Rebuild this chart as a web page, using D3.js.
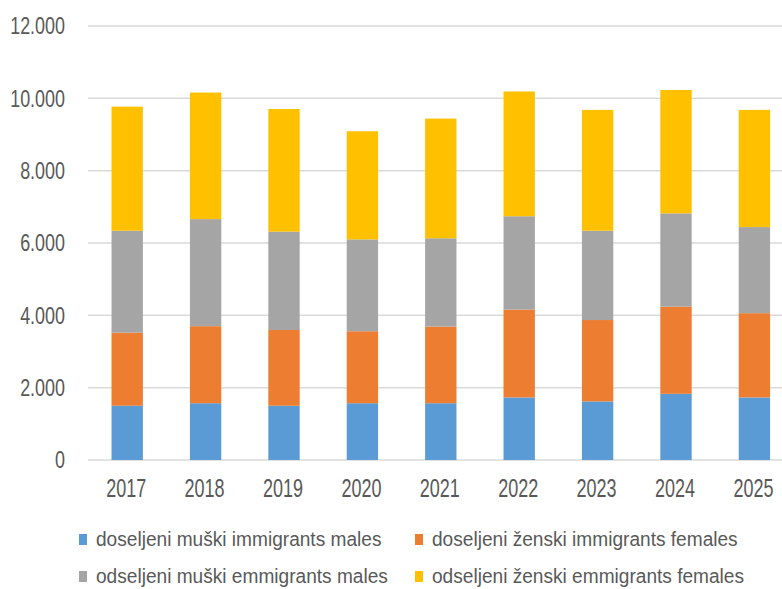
<!DOCTYPE html>
<html>
<head>
<meta charset="utf-8">
<script src="https://cdn.jsdelivr.net/npm/d3@7"></script>
<style>
  html, body { margin: 0; padding: 0; background: #fff; }
  svg { display: block; }
  text { font-family: "Liberation Sans", Arial, sans-serif; fill: #595959; }
</style>
</head>
<body>
<svg id="chart" width="782" height="589"></svg>
<script>
const years = ["2017","2018","2019","2020","2021","2022","2023","2024","2025"];
const seriesNames = [
  "doseljeni muški immigrants males",
  "doseljeni ženski immigrants females",
  "odseljeni muški emmigrants males",
  "odseljeni ženski emmigrants females"
];
const immigrantsMales   = [1500, 1570, 1500, 1570, 1570, 1730, 1620, 1830, 1730];
const immigrantsFemales = [2020, 2130, 2095, 1990, 2120, 2430, 2250, 2410, 2330];
const emigrantsMales    = [2820, 2960, 2720, 2540, 2440, 2580, 2470, 2580, 2380];
const emigrantsFemales  = [3430, 3500, 3390, 2990, 3310, 3450, 3340, 3410, 3240];
const yTicks = [0, 2000, 4000, 6000, 8000, 10000, 12000];
const yTickLabels = ["0", "2.000", "4.000", "6.000", "8.000", "10.000", "12.000"];
const colors = ["#5B9BD5", "#ED7D31", "#A5A5A5", "#FFC000"];

const keys = ["im", "if", "em", "ef"];
const rows = years.map((y, i) => ({
  year: y,
  im: immigrantsMales[i],
  if: immigrantsFemales[i],
  em: emigrantsMales[i],
  ef: emigrantsFemales[i]
}));

const svg = d3.select("#chart");
const x = d3.scaleBand().domain(years).range([88, 793.6]).paddingInner(0.6).paddingOuter(0.3);
const y = d3.scaleLinear().domain([0, 12000]).range([460, 26]);

// gridlines
svg.append("g").selectAll("line").data(yTicks).join("line")
  .attr("x1", 88).attr("x2", 782)
  .attr("y1", d => y(d)).attr("y2", d => y(d))
  .attr("stroke", "#D9D9D9").attr("stroke-width", 1.5);

// y labels (condensed)
svg.append("g").selectAll("text").data(yTicks).join("text")
  .attr("transform", d => `translate(65,${y(d)}) scale(0.78,1)`)
  .attr("dy", "0.36em")
  .attr("text-anchor", "end").attr("font-size", 23)
  .text((d, i) => yTickLabels[i]);

// bars
const stack = d3.stack().keys(keys)(rows);
svg.append("g").selectAll("g").data(stack).join("g")
  .attr("fill", (d, i) => colors[i])
  .selectAll("rect").data(d => d).join("rect")
  .attr("x", d => x(d.data.year))
  .attr("width", x.bandwidth())
  .attr("y", d => y(d[1]))
  .attr("height", d => y(d[0]) - y(d[1]));

// x labels
svg.append("g").selectAll("text").data(years).join("text")
  .attr("transform", d => `translate(${x(d) + x.bandwidth() / 2 - 1},497) scale(0.72,1)`)
  .attr("text-anchor", "middle").attr("font-size", 25)
  .text(d => d);

// legend
const legendPos = [[79, 546], [415, 546], [79, 583], [415, 583]];
const lg = svg.append("g").selectAll("g").data(seriesNames).join("g")
  .attr("transform", (d, i) => `translate(${legendPos[i][0]},${legendPos[i][1]})`);
lg.append("rect").attr("x", 0).attr("y", -12).attr("width", 8).attr("height", 11)
  .attr("fill", (d, i) => colors[i]);
lg.append("text").attr("transform", "translate(17,0) scale(0.91,1)")
  .attr("font-size", 21).text(d => d);
</script>
</body>
</html>
